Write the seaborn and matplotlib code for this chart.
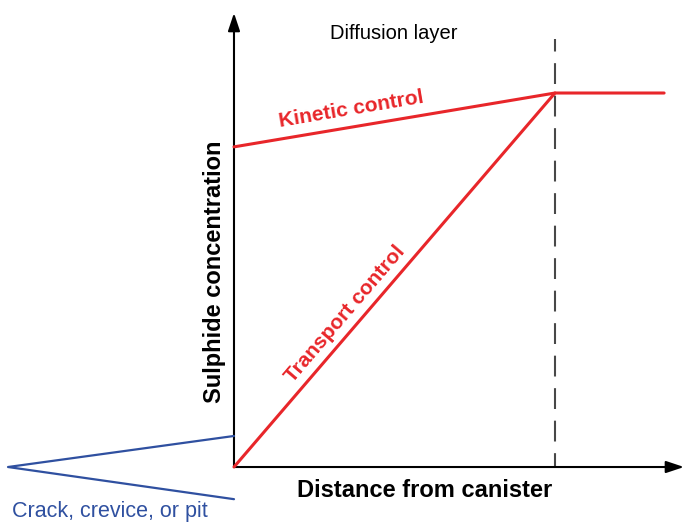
import matplotlib
matplotlib.use("Agg")
import matplotlib.pyplot as plt
import seaborn as sns
import pandas as pd

sns.set_theme(style="white")
plt.rcParams["font.family"] = ["Liberation Sans", "DejaVu Sans"]

# Distance is scaled so the diffusion-layer edge sits at 1; concentration so the bulk value is 1
kinetic_x = [0.0, 1.0, 1.34]
kinetic_y = [0.856, 1.0, 1.0]
transport_x = [0.0, 1.0]
transport_y = [0.0, 1.0]
crack_x = [0.0, -0.704, 0.0]
crack_y = [0.083, 0.0, -0.086]
layer_edge = 1.0

RED = "#e8262a"
BLUE = "#2f50a0"

fig = plt.figure(figsize=(6.84, 5.23), dpi=100)
ax = fig.add_axes([0, 0, 1, 1])
ax.set_xlim(-0.729, 1.402)
ax.set_ylim(-0.1497, 1.2487)
ax.axis("off")

kin = pd.DataFrame({"x": kinetic_x, "y": kinetic_y})
tra = pd.DataFrame({"x": transport_x, "y": transport_y})
crk = pd.DataFrame({"x": crack_x, "y": crack_y})

# Boundary layer edge
ax.plot([layer_edge, layer_edge], [1.144, 0.0], color="#484848", lw=1.5,
        linestyle=(4.0, (10.0, 5.6)), zorder=1)

sns.lineplot(data=kin, x="x", y="y", sort=False, estimator=None, color=RED,
             lw=2.2, ax=ax, zorder=3)
sns.lineplot(data=tra, x="x", y="y", sort=False, estimator=None, color=RED,
             lw=2.2, ax=ax, zorder=3)
sns.lineplot(data=crk, x="x", y="y", sort=False, estimator=None, color=BLUE,
             lw=1.6, ax=ax, zorder=3)

# Axes with arrowheads
arrow = dict(arrowstyle="-|>,head_length=0.9,head_width=0.3", color="black",
             lw=1.5, shrinkA=0, shrinkB=0)
ax.annotate("", xy=(0.0, 1.214), xytext=(0.0, 0.0), arrowprops=arrow, zorder=2)
ax.annotate("", xy=(1.402, 0.0), xytext=(0.0, 0.0), arrowprops=arrow, zorder=2)

ax.text(0.498, 1.160, "Diffusion layer", fontsize=14.5, ha="center", va="center",
        color="black")
ax.text(0.594, -0.063, "Distance from canister", fontsize=17, fontweight="bold",
        ha="center", va="center", color="black")
ax.text(-0.060, 0.521, "Sulphide concentration", fontsize=17, fontweight="bold",
        rotation=90, ha="center", va="center", color="black")
ax.text(-0.691, -0.120, "Crack, crevice, or pit", fontsize=15.5, ha="left",
        va="center", color=BLUE)
ax.text(0.367, 0.955, "Kinetic control", fontsize=15, fontweight="bold",
        rotation=9.6, rotation_mode="anchor", ha="center", va="center", color=RED)
ax.text(0.345, 0.41, "Transport control", fontsize=15, fontweight="bold",
        rotation=49.4, rotation_mode="anchor", ha="center", va="center", color=RED)

fig.savefig("out.png", dpi=100)
